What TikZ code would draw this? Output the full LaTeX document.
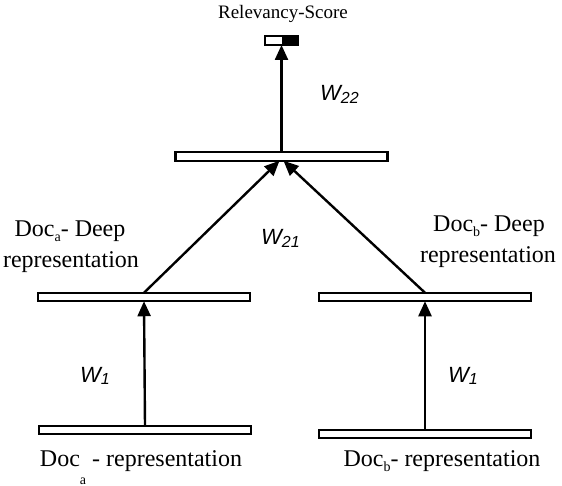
\documentclass[tikz,border=0pt]{standalone}
\usepackage{fontspec}
\setmainfont{Liberation Serif}
\newfontfamily\wfont{Liberation Sans}
\usetikzlibrary{arrows.meta}

\tikzset{
  bar/.style={draw, line width=2.4pt, fill=white, minimum width=212pt, minimum height=8.5pt, inner sep=0pt, outer sep=0pt},
  link/.style={line width=2.4pt, -{Triangle[length=15pt,width=13pt]}},
  wlabel/.style={anchor=base west, inner sep=0pt, font=\fontsize{22}{22}\selectfont\wfont\itshape},
  doclabel/.style={anchor=base, inner sep=0pt, font=\fontsize{24}{24}\selectfont},
}
\newcommand{\wsub}[1]{W\raisebox{-0.2ex}{\fontsize{16}{16}\selectfont #1}}
\newcommand{\docsub}[2]{Doc\raisebox{#2}{\fontsize{14}{14}\selectfont #1}}

\begin{document}
\begin{tikzpicture}[x=1pt,y=-1pt]
\useasboundingbox (0,0) rectangle (562,486);

% output unit
\node[draw, line width=2.4pt, minimum width=33pt, minimum height=9pt, inner sep=0pt, outer sep=0pt] (out) at (281.5,40.5) {};
\fill (out.north) rectangle (out.south east);
\node[anchor=base, inner sep=0pt, font=\fontsize{19}{19}\selectfont] (score) at (283,19) {Relevancy-Score};

% layers
\node[bar] (top) at (281.5,156.5) {};   % joint layer
\node[bar] (dpa) at (144,297) {};       % deep representation a
\node[bar] (dpb) at (425,297) {};       % deep representation b
\node[bar] (rpa) at (145,430) {};       % representation a
\node[bar] (rpb) at (425,434) {};       % representation b

% connections
\draw[link] (rpa.north) -- (dpa.south);
\draw[link] (rpb.north) -- (dpb.south);
\draw[link] (dpa.north) -- ([xshift=-2pt]top.south);
\draw[link] (dpb.north) -- ([xshift=2pt]top.south);
\draw[link] (top.north) -- (out.south);

% weights
\node[wlabel] (w22) at (320,101) {\wsub{22}};
\node[wlabel] (w21) at (261,245) {\wsub{21}};
\node[wlabel] (w1a) at (80,382) {\wsub{1}};
\node[wlabel] (w1b) at (448,382) {\wsub{1}};

% texts
\node[doclabel] (dpatext1) at (70,237) {\docsub{a}{-5pt}- Deep};
\node[doclabel] (dpatext2) at (71,268) {representation};
\node[doclabel] (dpbtext1) at (489,232) {\docsub{b}{-5pt}- Deep};
\node[doclabel] (dpbtext2) at (488,262) {representation};
\node[doclabel] (rpatext) at (141,466) {\docsub{a}{-18pt} - representation};
\node[doclabel] (rpbtext) at (442,466) {\docsub{b}{-5pt}- representation};

\end{tikzpicture}
\end{document}
